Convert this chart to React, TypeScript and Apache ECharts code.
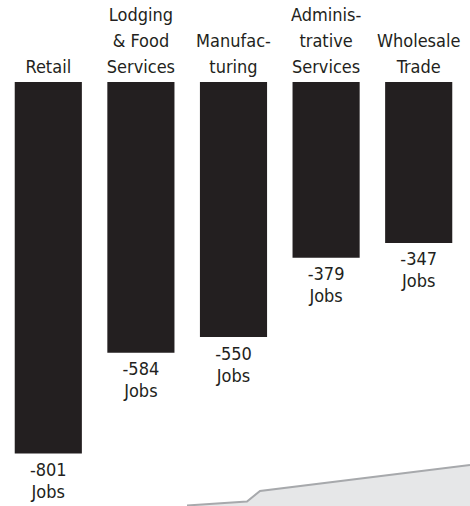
import React, { useEffect, useRef } from "react";
import * as echarts from "echarts";

const categories = [
  "Retail",
  "Lodging\n& Food\nServices",
  "Manufac-\nturing",
  "Adminis-\ntrative\nServices",
  "Wholesale\nTrade",
];
const jobChanges = [-801, -584, -550, -379, -347];
const valueUnit = "Jobs";

const FONT = "'Liberation Sans Narrow', 'DejaVu Sans Condensed', 'Arial Narrow', sans-serif";
const INK = "#231f20";

export default function App() {
  const ref = useRef<HTMLDivElement>(null);
  useEffect(() => {
    document.body.style.margin = "0";
    const chart = echarts.init(ref.current!, null, { renderer: "svg" });
    chart.setOption({
      animation: false,
      grid: { left: 2, width: 463, top: 82, height: 417.3 },
      xAxis: {
        type: "category",
        position: "top",
        data: categories,
        axisLine: { show: false },
        axisTick: { show: false },
        axisLabel: {
          interval: 0,
          margin: 3,
          color: INK,
          fontFamily: FONT,
          fontSize: 18,
          lineHeight: 26,
          align: "center",
        },
      },
      yAxis: {
        type: "value",
        min: -900,
        max: 0,
        show: false,
        splitLine: { show: false },
      },
      graphic: [
        {
          type: "polygon",
          z: -1,
          shape: {
            points: [
              [187, 506],
              [247, 502],
              [260, 491],
              [470, 465],
              [470, 506],
            ],
          },
          style: { fill: "#e6e7e8" },
        },
        {
          type: "polyline",
          z: -1,
          shape: {
            points: [
              [187, 505.5],
              [247, 501.5],
              [260, 491],
              [470, 465],
            ],
          },
          style: { stroke: "#a7a9ac", lineWidth: 2, fill: "none" },
        },
      ],
      series: [
        {
          type: "bar",
          data: jobChanges,
          barWidth: "72.5%",
          itemStyle: { color: INK },
          label: {
            show: true,
            position: "bottom",
            distance: 5,
            formatter: (p: any) => `${p.value}\n${valueUnit}`,
            color: INK,
            fontFamily: FONT,
            fontSize: 18,
            lineHeight: 22,
          },
        },
      ],
    });
    return () => chart.dispose();
  }, []);
  return <div ref={ref} style={{ width: 470, height: 506 }} />;
}
